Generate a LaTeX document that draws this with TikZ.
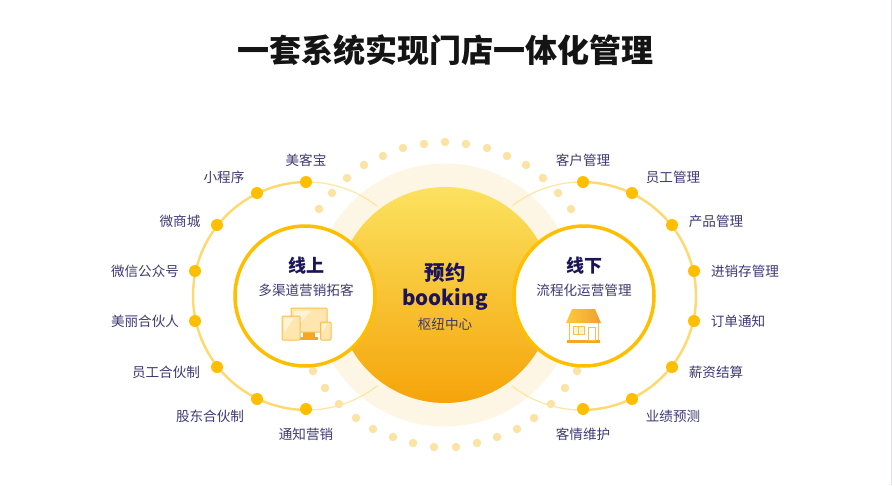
\documentclass[tikz,border=0pt]{standalone}
\usepackage{fontspec}
\setmainfont{Noto Sans CJK SC}
\definecolor{navy}{HTML}{1C1458}
\definecolor{lab}{HTML}{3F3A72}
\definecolor{gold}{HTML}{FFBF00}
\definecolor{halo}{HTML}{FEF6E4}
\definecolor{paledot}{HTML}{FBE3A6}
\definecolor{arcc}{HTML}{FFD86E}
\definecolor{arcpale}{HTML}{FFE6A0}
\definecolor{iconfill}{HTML}{FFE6AE}
\definecolor{iconlite}{HTML}{FFF3D6}
\definecolor{iconline}{HTML}{F9C04F}
\definecolor{iconbase}{HTML}{F5A623}
\definecolor{ctop}{HTML}{FBE25F}
\definecolor{cbot}{HTML}{F5A40A}
\definecolor{roofl}{HTML}{FFC93C}
\definecolor{roofr}{HTML}{EFA030}
\definecolor{edgec}{HTML}{EADDE6}
\tikzset{
  lbl/.style={inner sep=0pt,text=lab,font=\fontsize{13.6}{15}\selectfont},
  pdot/.style={circle,fill=paledot,inner sep=0pt,minimum size=8.5pt},
  kdot/.style={circle,fill=gold,inner sep=0pt,minimum size=12pt},
  hub/.style={circle,draw=gold,line width=3.5pt,fill=white,inner sep=0pt,minimum size=140pt},
  bigarc/.style={draw=arcc,line width=2.4pt},
  endarc/.style={draw=arcpale,line width=1.2pt},
  icon/.style={draw=iconline,line width=1pt,fill=iconfill,rounded corners=1pt}
}
\begin{document}
\begin{tikzpicture}[x=1pt,y=-1pt]
\useasboundingbox (0,0) rectangle (892,485);
\fill[white] (0,0) rectangle (892,485);
\fill[edgec] (891,0) rectangle (892,485);
% title
\node[inner sep=0pt,text=black!92] (title) at (445,50) {\fontsize{32}{36}\selectfont\bfseries 一套系统实现门店一体化管理};
% halo
\node[circle,fill=halo,inner sep=0pt,minimum size=263pt] (halo) at (445,295) {};
% dotted ring
\foreach \n/\p in {a/{445,142},b/{424,144},c/{403,148},d/{383,156},e/{364,165},f/{347,178},g/{332,193},h/{319,209},
  i/{466,144},j/{487,148},k/{507,156},l/{526,165},m/{543,178},n/{558,193},o/{571,209},
  p/{434,447},q/{456,447},r/{413,443},s/{393,437},t/{373,429},u/{356,418},v/{339,404},w/{325,388},x/{313,371},
  y/{477,443},z/{497,437},A/{517,429},B/{534,418},C/{551,404},D/{565,388},E/{577,371}}
  \node[pdot] (dot\n) at (\p) {};
% arcs
\draw[bigarc] plot[domain=90:270,samples=50,smooth] ({307+114*cos(\x)},{296-114*sin(\x)});
\draw[endarc] plot[domain=52:90,samples=20,smooth] ({307+114*cos(\x)},{296-114*sin(\x)});
\draw[endarc] plot[domain=270:308,samples=20,smooth] ({307+114*cos(\x)},{296-114*sin(\x)});
\draw[bigarc] plot[domain=-90:90,samples=50,smooth] ({582+114*cos(\x)},{296-114*sin(\x)});
\draw[endarc] plot[domain=90:128,samples=20,smooth] ({582+114*cos(\x)},{296-114*sin(\x)});
\draw[endarc] plot[domain=-128:-90,samples=20,smooth] ({582+114*cos(\x)},{296-114*sin(\x)});
% key dots and labels
\foreach \n/\p/\q/\t in {
  la/{306,182}/{306,160}/美客宝, lb/{257,193}/{224,177}/小程序, lc/{217,225}/{180,221}/微商城,
  ld/{195,271}/{145,271}/微信公众号, le/{195,321}/{145,321}/美丽合伙人, lf/{217,367}/{166,372}/员工合伙制,
  lg/{257,399}/{210,416}/股东合伙制, lh/{306,409}/{306,434}/通知营销,
  ra/{583,182}/{583,160}/客户管理, rb/{632,193}/{673,177}/员工管理, rc/{672,225}/{716,221}/产品管理,
  rd/{694,271}/{745,271}/进销存管理, re/{694,321}/{738,321}/订单通知, rf/{672,367}/{716,372}/薪资结算,
  rg/{632,399}/{673,416}/业绩预测, rh/{583,409}/{583,434}/客情维护}{
  \node[kdot] (k\n) at (\p) {};
  \node[lbl] (t\n) at (\q) {\t};
}
% centre
\node[circle,top color=ctop,bottom color=cbot,inner sep=0pt,minimum size=216pt] (centre) at (445,295) {};
\node[inner sep=0pt,text=navy] (c1) at (445,273) {\fontsize{20.5}{22}\selectfont\bfseries 预约};
\node[inner sep=0pt,text=navy] (c2) at (445,299) {\fontsize{20.5}{24}\selectfont\bfseries booking};
\node[lbl] (c3) at (445,324) {枢纽中心};
% hubs
\node[hub] (left) at (305,296) {};
\node[hub] (right) at (584,296) {};
\node[inner sep=0pt,text=navy] (l1) at (306,266) {\fontsize{18}{20}\selectfont\bfseries 线上};
\node[lbl] (l2) at (306,290) {多渠道营销拓客};
\node[inner sep=0pt,text=navy] (r1) at (584,266) {\fontsize{18}{20}\selectfont\bfseries 线下};
\node[lbl] (r2) at (584,290) {流程化运营管理};
% device icon
\fill[iconbase] (303,332) rectangle (315,337);
\fill[iconbase] (300,337) rectangle (318,340);
\filldraw[icon] (291,308) rectangle (327,332);
\fill[iconlite] (294,329) -- (311,311) -- (294,311) -- cycle;
\filldraw[icon] (282,316) rectangle (300,340);
\fill[iconlite] (284,333) -- (294,318) -- (284,318) -- cycle;
\filldraw[icon] (320.5,322) rectangle (331,340);
\fill[iconlite] (322,333) -- (327,324) -- (322,324) -- cycle;
% house icon
\fill[white] (569,323) rectangle (598,340);
\draw[iconline,line width=1pt] (569,323) -- (569,340) (598,323) -- (598,340);
\shade[left color=roofl,right color=roofr] (572,309) -- (595,309) -- (601,323) -- (566,323) -- cycle;
\fill[iconbase] (567,340) rectangle (600,343);
\draw[iconline,line width=1pt,fill=iconlite] (573,326) rectangle (584,334);
\draw[iconline,line width=1pt] (578.5,326) -- (578.5,334);
\draw[iconline,line width=1pt,fill=white] (588,327) rectangle (595,340);
\end{tikzpicture}
\end{document}
